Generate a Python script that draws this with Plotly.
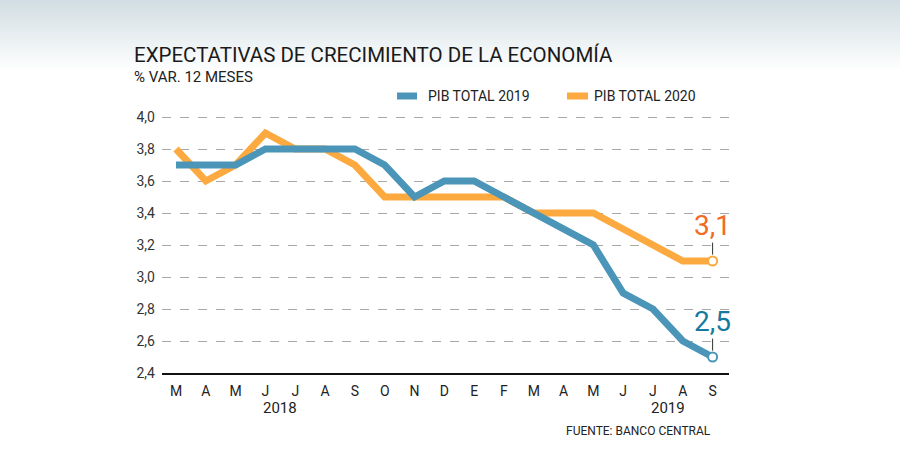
import plotly.graph_objects as go

months = ["M", "A", "M", "J", "J", "A", "S", "O", "N", "D", "E", "F", "M", "A", "M", "J", "J", "A", "S"]
pib_2019 = [3.7, 3.7, 3.7, 3.8, 3.8, 3.8, 3.8, 3.7, 3.5, 3.6, 3.6, 3.5, 3.4, 3.3, 3.2, 2.9, 2.8, 2.6, 2.5]
pib_2020 = [3.8, 3.6, 3.7, 3.9, 3.8, 3.8, 3.7, 3.5, 3.5, 3.5, 3.5, 3.5, 3.4, 3.4, 3.4, 3.3, 3.2, 3.1, 3.1]
y_ticks = [2.4, 2.6, 2.8, 3.0, 3.2, 3.4, 3.6, 3.8, 4.0]
years = [("2018", 3.5), ("2019", 16.5)]

BLUE = "#4a95b8"
ORANGE = "#fca93f"
BLUE_TXT = "#17799f"
ORANGE_TXT = "#f26a25"

W, H = 900, 462
ML, MR, MT, MB = 162, 171, 109, 89
PW, PH = W - ML - MR, H - MT - MB

def px_x(X):
    return (X - ML) / PW

def px_y(Y):
    return (H - MB - Y) / PH

x = list(range(len(months)))

fig = go.Figure()
fig.add_trace(go.Scatter(x=x, y=pib_2020, mode="lines", line=dict(color=ORANGE, width=7),
                         name="PIB TOTAL 2020", showlegend=False))
fig.add_trace(go.Scatter(x=x, y=pib_2019, mode="lines", line=dict(color=BLUE, width=7),
                         name="PIB TOTAL 2019", showlegend=False))
# end markers
for vals, col in [(pib_2020, ORANGE), (pib_2019, BLUE)]:
    fig.add_trace(go.Scatter(x=[x[-1]], y=[vals[-1]], mode="markers", showlegend=False,
                             marker=dict(symbol="circle", size=9, color="white",
                                         line=dict(color=col, width=2))))

shapes = []
# background gradient
top = (0xd2, 0xde, 0xe3)
n = 36
for i in range(n):
    t = i / (n - 1)
    c = tuple(int(round(top[k] + (255 - top[k]) * t)) for k in range(3))
    shapes.append(dict(type="rect", xref="paper", yref="paper", layer="below",
                       x0=px_x(0), x1=px_x(W), y0=px_y(i * 2 + 2), y1=px_y(i * 2),
                       fillcolor="rgb(%d,%d,%d)" % c, line=dict(width=0)))
# end label leaders
for vals, col in [(pib_2020, "#333333"), (pib_2019, "#333333")]:
    shapes.append(dict(type="line", xref="x", yref="y", x0=x[-1], x1=x[-1],
                       y0=vals[-1] + 0.04, y1=vals[-1] + 0.115, line=dict(color=col, width=1)))
# legend swatches
shapes.append(dict(type="line", xref="paper", yref="paper", x0=px_x(397), x1=px_x(417),
                   y0=px_y(96), y1=px_y(96), line=dict(color=BLUE, width=7)))
shapes.append(dict(type="line", xref="paper", yref="paper", x0=px_x(567), x1=px_x(588),
                   y0=px_y(96), y1=px_y(96), line=dict(color=ORANGE, width=7)))

TXT_FONT = "Roboto, sans-serif"
COND_FONT = "Roboto, sans-serif"

ann = []
ann.append(dict(xref="paper", yref="paper", x=px_x(132), y=px_y(55), xanchor="left", yanchor="middle",
                text="EXPECTATIVAS DE CRECIMIENTO DE LA ECONOMÍA", showarrow=False,
                font=dict(family=COND_FONT, size=20.5, color="#1a1a1a")))
ann.append(dict(xref="paper", yref="paper", x=px_x(132), y=px_y(77), xanchor="left", yanchor="middle",
                text="% VAR. 12 MESES", showarrow=False,
                font=dict(family=TXT_FONT, size=15, color="#222222")))
ann.append(dict(xref="paper", yref="paper", x=px_x(426), y=px_y(96), xanchor="left", yanchor="middle",
                text="PIB TOTAL 2019", showarrow=False, font=dict(family=TXT_FONT, size=14, color="#222222")))
ann.append(dict(xref="paper", yref="paper", x=px_x(592), y=px_y(96), xanchor="left", yanchor="middle",
                text="PIB TOTAL 2020", showarrow=False, font=dict(family=TXT_FONT, size=14, color="#222222")))
for label, pos in years:
    ann.append(dict(xref="x", yref="paper", x=pos, y=px_y(408), xanchor="center", yanchor="middle",
                    text=label, showarrow=False, font=dict(family=TXT_FONT, size=15, color="#222222")))
ann.append(dict(xref="x", yref="paper", x=x[-1], y=px_y(431), xanchor="right", yanchor="middle",
                text="FUENTE: BANCO CENTRAL", showarrow=False, font=dict(family=TXT_FONT, size=12, color="#222222")))
for vals, col in [(pib_2020, ORANGE_TXT), (pib_2019, BLUE_TXT)]:
    ann.append(dict(xref="x", yref="y", x=x[-1], y=vals[-1], yshift=36, xanchor="center", yanchor="middle",
                    text=("%.1f" % vals[-1]).replace(".", ","), showarrow=False,
                    font=dict(family=TXT_FONT, size=28, color=col)))

fig.update_layout(
    width=W, height=H, margin=dict(l=ML, r=MR, t=MT, b=MB),
    paper_bgcolor="white", plot_bgcolor="rgba(0,0,0,0)",
    shapes=shapes, annotations=ann, showlegend=False,
    xaxis=dict(range=[-0.47, 18.55], tickvals=x, ticktext=months, showgrid=False, zeroline=False,
               showline=True, linecolor="#111111", linewidth=2, ticks="", ticklabelstandoff=4,
               tickfont=dict(family=TXT_FONT, size=14, color="#222222")),
    yaxis=dict(range=[2.4, 4.05], tickvals=y_ticks, ticktext=[("%.1f" % v).replace(".", ",") for v in y_ticks],
               showgrid=True, gridcolor="#a8a8a8", griddash="dash", gridwidth=1, zeroline=False,
               showline=False, ticks="", ticklabelstandoff=6,
               tickfont=dict(family=TXT_FONT, size=14, color="#333333")),
)

fig.write_html("out.html")
